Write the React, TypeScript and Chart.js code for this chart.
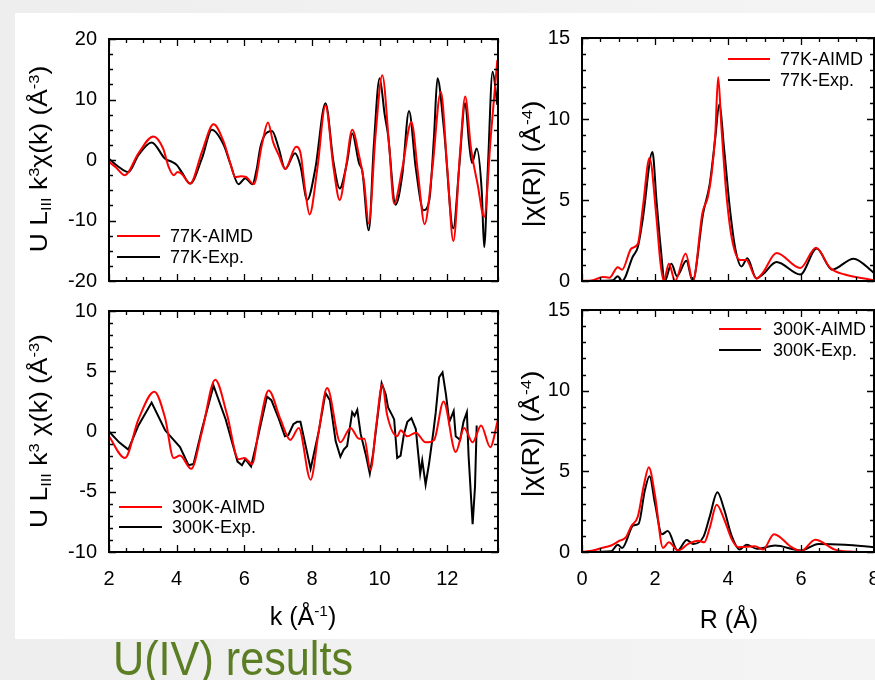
import React, { useEffect, useRef } from "react";
import { Chart, registerables } from "chart.js";
Chart.register(...registerables);

const W = 875;
const H = 680;
const FONT = "'Liberation Sans', Arial, Helvetica, sans-serif";
const RED = "#ff0000";
const BLACK = "#000000";

// ---------- 77K k-space ----------
const k77Aimd = [2.0, 2.2, 2.47, 2.87, 3.31, 3.6, 3.76, 3.91, 4.03, 4.15, 4.4, 4.75, 5.09, 5.39, 5.6, 5.73, 5.9, 6.05, 6.28, 6.52, 6.7, 6.85, 7.02, 7.21, 7.53, 7.66, 7.8, 7.93, 8.16, 8.4, 8.64, 8.82, 9.0, 9.19, 9.39, 9.54, 9.68, 9.88, 10.08, 10.28, 10.43, 10.67, 10.94, 11.14, 11.33, 11.56, 11.81, 12.0, 12.18, 12.38, 12.53, 12.7, 12.9, 13.09, 13.29, 13.48];
const chi77Aimd = [-0.3, -1.2, -2.5, 1.1, 3.9, 1.9, -1.1, -2.5, -2.0, -2.3, -3.9, 1.4, 5.9, 3.0, -0.8, -2.8, -2.7, -2.8, -4.0, 2.5, 6.2, 3.0, 0.8, -1.5, 2.2, 1.2, -5.0, -9.0, -1.4, 9.0, -1.4, -6.6, -1.4, 5.0, 0.8, -3.6, -10.5, 4.1, 14.0, 2.5, -7.2, -1.4, 6.3, -2.5, -10.6, -1.4, 11.3, -1.3, -13.4, 1.4, 10.5, 2.0, -4.1, -9.4, 4.1, 16.5];
const k77Exp = [2.0, 2.3, 2.57, 2.87, 3.26, 3.66, 3.86, 4.0, 4.15, 4.4, 4.75, 5.04, 5.39, 5.58, 5.83, 6.03, 6.24, 6.37, 6.47, 6.6, 6.82, 7.02, 7.21, 7.5, 7.66, 7.86, 8.1, 8.4, 8.64, 8.82, 9.04, 9.19, 9.39, 9.49, 9.68, 9.83, 10.0, 10.15, 10.25, 10.47, 10.67, 10.87, 11.07, 11.3, 11.47, 11.61, 11.71, 11.9, 12.18, 12.35, 12.53, 12.65, 12.73, 12.87, 13.02, 13.09, 13.2, 13.34, 13.48];
const chi77Exp = [0.2, -1.2, -2.0, 0.8, 2.9, 0.2, -0.3, -0.8, -2.0, -3.9, 0.3, 5.0, 2.5, -0.5, -4.0, -3.0, -4.0, -1.4, 2.0, 4.1, 4.8, 1.9, -1.5, 1.1, -1.0, -6.6, -1.4, 9.4, -0.5, -4.7, -0.3, 4.4, -0.5, -1.9, -11.6, 2.5, 13.5, 7.5, 4.1, -7.4, -2.5, 8.1, -1.4, -8.3, -6.6, 4.1, 13.5, 5.2, -11.3, -1.4, 9.4, 2.5, -0.5, 1.9, -5.2, -14.4, -1.4, 14.6, 9.1];

// ---------- 300K k-space ----------
const k300Aimd = [2.0, 2.47, 2.87, 3.34, 3.66, 3.91, 4.1, 4.43, 4.75, 5.14, 5.49, 5.83, 6.0, 6.23, 6.45, 6.72, 7.07, 7.36, 7.61, 7.96, 8.2, 8.45, 8.84, 9.14, 9.39, 9.55, 9.73, 9.9, 10.08, 10.22, 10.52, 10.62, 10.82, 11.07, 11.36, 11.61, 11.89, 12.25, 12.5, 12.75, 13.0, 13.27, 13.5];
const chi300Aimd = [-0.4, -2.2, 1.0, 3.3, 1.1, -2.2, -2.0, -3.1, 0.0, 4.3, 1.4, -2.3, -2.2, -2.7, 0.5, 3.4, 1.0, -0.7, 0.3, -4.0, 0.0, 3.6, -0.9, 0.3, -0.6, -0.6, -3.2, 0.5, 3.9, 1.4, -0.4, 0.1, -0.4, -0.1, -0.9, -0.7, 2.5, -1.7, 0.3, -0.9, 0.5, -1.3, 1.0];
const k300Exp = [2.0, 2.3, 2.57, 2.87, 3.26, 3.66, 3.91, 4.1, 4.35, 4.5, 4.75, 5.09, 5.45, 5.8, 5.93, 6.03, 6.2, 6.4, 6.67, 6.8, 7.0, 7.2, 7.3, 7.45, 7.56, 7.66, 7.96, 8.2, 8.4, 8.53, 8.7, 8.84, 8.94, 9.04, 9.19, 9.26, 9.34, 9.44, 9.59, 9.71, 9.81, 10.06, 10.18, 10.25, 10.38, 10.43, 10.52, 10.62, 10.72, 10.82, 10.94, 11.07, 11.2, 11.26, 11.36, 11.46, 11.59, 11.66, 11.76, 11.86, 11.96, 12.06, 12.19, 12.25, 12.38, 12.48, 12.58, 12.63, 12.75, 12.82, 12.87];
const chi300Exp = [0.0, -0.9, -1.5, 0.5, 2.4, 0.1, -0.7, -1.3, -2.8, -2.7, 0.2, 3.8, 1.0, -2.5, -2.8, -2.3, -2.9, -0.5, 2.9, 2.6, 1.2, -0.4, -0.3, 0.6, 0.8, 0.8, -3.1, 0.0, 3.2, 2.6, -0.8, -2.1, -1.5, -1.2, 1.6, 1.3, 1.8, -0.2, -1.9, -3.5, -1.8, 4.0, 3.1, 2.0, 1.3, 1.0, -2.2, -2.0, -0.2, 0.8, 1.1, 0.2, -3.5, -2.4, -4.4, -2.7, 0.0, 1.6, 4.5, 4.9, 3.1, 0.8, 1.7, -0.4, -0.7, 0.8, 1.6, -2.0, -7.7, -4.6, 0.5];

// ---------- 77K R-space ----------
const r77Aimd = [0, 0.3, 0.57, 0.75, 0.98, 1.1, 1.35, 1.53, 1.67, 1.85, 2.04, 2.15, 2.24, 2.38, 2.55, 2.84, 3.04, 3.3, 3.45, 3.55, 3.65, 3.73, 3.82, 3.95, 4.1, 4.33, 4.5, 4.78, 4.95, 5.33, 5.98, 6.41, 6.8, 7.2, 8.0];
const mag77Aimd = [0, 0.05, 0.25, 0.2, 0.85, 0.7, 2.0, 2.3, 4.6, 7.6, 3.9, 1.1, 0, 1.07, 0, 1.7, 0, 4.2, 5.2, 6.6, 9.0, 12.6, 9.5, 5.5, 2.7, 1.3, 1.3, 0.15, 0.5, 1.73, 0.8, 2.06, 0.8, 0.4, 0.05];
const r77Exp = [0, 0.5, 0.85, 0.98, 1.1, 1.39, 1.53, 1.67, 1.93, 2.04, 2.15, 2.27, 2.45, 2.6, 2.86, 3.03, 3.32, 3.5, 3.65, 3.76, 3.9, 4.05, 4.2, 4.37, 4.53, 4.78, 4.95, 5.33, 5.98, 6.43, 6.85, 7.44, 8.0];
const mag77Exp = [0, 0.02, 0.05, 0.3, 0, 1.5, 2.1, 3.9, 7.96, 5.0, 2.2, 0, 1.07, 0.3, 1.25, 0, 4.2, 6.0, 8.8, 10.9, 8.0, 4.5, 2.0, 0.9, 1.4, 0.15, 0.4, 1.17, 0.4, 2.0, 0.7, 1.38, 0.5];

// ---------- 300K R-space ----------
const r300Aimd = [0, 0.3, 0.62, 0.8, 1.03, 1.2, 1.35, 1.53, 1.7, 1.83, 2.0, 2.22, 2.38, 2.63, 2.91, 3.18, 3.35, 3.5, 3.69, 3.9, 4.1, 4.28, 4.74, 4.96, 5.26, 5.74, 6.0, 6.39, 6.93, 7.4, 8.0];
const mag300Aimd = [0, 0.1, 0.3, 0.4, 0.7, 0.9, 1.6, 2.2, 4.2, 5.26, 3.5, 0.25, 0.6, 0.1, 0.5, 0.7, 0.6, 1.5, 2.93, 2.0, 0.8, 0.3, 0.35, 0.15, 1.1, 0.3, 0.05, 0.76, 0.15, 0.02, 0];
const r300Exp = [0, 0.5, 0.8, 0.98, 1.1, 1.41, 1.55, 1.72, 1.85, 2.0, 2.19, 2.35, 2.62, 2.87, 3.05, 3.33, 3.5, 3.71, 3.9, 4.1, 4.32, 4.51, 4.79, 5.29, 6.0, 6.48, 7.2, 8.0];
const mag300Exp = [0, 0.02, 0.05, 0.45, 0.25, 1.65, 1.75, 3.8, 4.7, 3.0, 1.1, 1.3, 0.1, 0.75, 0.5, 0.95, 2.2, 3.7, 2.6, 1.0, 0.15, 0.45, 0.2, 0.4, 0.1, 0.5, 0.45, 0.3];

// ---------- axis ticks ----------
const kAxis = { min: 2, max: 13.5, step: 2, minor: 0.5 };
const rAxis = { min: 0, max: 8, step: 2, minor: 0.5 };
const y77Axis = { min: -20, max: 20, step: 10, minor: 2.5 };
const y300Axis = { min: -10, max: 10, step: 5, minor: 1 };
const ymagAxis = { min: 0, max: 15, step: 5, minor: 1 };

const labels77 = ["77K-AIMD", "77K-Exp."];
const labels300 = ["300K-AIMD", "300K-Exp."];

type Axis = { min: number; max: number; step: number; minor: number };
type Series = { xs: number[]; ys: number[]; color: string; mono: boolean };
type Panel = {
  area: { l: number; t: number; r: number; b: number };
  x: Axis;
  y: Axis;
  showX: boolean;
  series: Series[];
};

const panels: Panel[] = [
  {
    area: { l: 109, t: 39, r: 498, b: 281 },
    x: kAxis,
    y: y77Axis,
    showX: false,
    series: [
      { xs: k77Aimd, ys: chi77Aimd, color: RED, mono: true },
      { xs: k77Exp, ys: chi77Exp, color: BLACK, mono: true },
    ],
  },
  {
    area: { l: 109, t: 311, r: 498, b: 552 },
    x: kAxis,
    y: y300Axis,
    showX: true,
    series: [
      { xs: k300Aimd, ys: chi300Aimd, color: RED, mono: true },
      { xs: k300Exp, ys: chi300Exp, color: BLACK, mono: false },
    ],
  },
  {
    area: { l: 582, t: 38, r: 874, b: 281 },
    x: rAxis,
    y: ymagAxis,
    showX: false,
    series: [
      { xs: r77Aimd, ys: mag77Aimd, color: RED, mono: true },
      { xs: r77Exp, ys: mag77Exp, color: BLACK, mono: true },
    ],
  },
  {
    area: { l: 582, t: 310, r: 874, b: 552 },
    x: rAxis,
    y: ymagAxis,
    showX: true,
    series: [
      { xs: r300Aimd, ys: mag300Aimd, color: RED, mono: true },
      { xs: r300Exp, ys: mag300Exp, color: BLACK, mono: true },
    ],
  },
];

function isMajor(v: number, step: number) {
  const q = v / step;
  return Math.abs(q - Math.round(q)) < 1e-6;
}

function buildChart(canvas: HTMLCanvasElement, p: Panel, idx: number) {
  const xH = p.showX ? 44 : 0;
  const frame = {
    id: "frame" + idx,
    afterDatasetsDraw(chart: any) {
      const { ctx, chartArea: a, scales } = chart;
      const xs = scales.x;
      const ys = scales.y;
      ctx.save();
      ctx.strokeStyle = "#000";
      ctx.lineWidth = 1.3;
      ctx.beginPath();
      const nx = Math.round((p.x.max - p.x.min) / p.x.minor);
      for (let i = 0; i <= nx; i++) {
        const v = p.x.min + i * p.x.minor;
        const px = Math.round(xs.getPixelForValue(v)) + 0.5;
        const len = isMajor(v, p.x.step) ? 7 : 4;
        ctx.moveTo(px, a.bottom);
        ctx.lineTo(px, a.bottom - len);
        ctx.moveTo(px, a.top);
        ctx.lineTo(px, a.top + len);
      }
      const ny = Math.round((p.y.max - p.y.min) / p.y.minor);
      for (let i = 0; i <= ny; i++) {
        const v = p.y.min + i * p.y.minor;
        const py = Math.round(ys.getPixelForValue(v)) + 0.5;
        const len = isMajor(v, p.y.step) ? 7 : 4;
        ctx.moveTo(a.left, py);
        ctx.lineTo(a.left + len, py);
        ctx.moveTo(a.right, py);
        ctx.lineTo(a.right - len, py);
      }
      ctx.stroke();
      ctx.lineWidth = 2;
      ctx.strokeRect(a.left, a.top, a.right - a.left, a.bottom - a.top);
      ctx.restore();
    },
  };

  return new Chart(canvas, {
    type: "line",
    data: {
      datasets: p.series.map((s) => {
        const n = Math.min(s.xs.length, s.ys.length);
        const pts = [] as { x: number; y: number }[];
        for (let i = 0; i < n; i++) pts.push({ x: s.xs[i], y: s.ys[i] });
        return {
          data: pts,
          borderColor: s.color,
          backgroundColor: s.color,
          borderWidth: 2,
          pointRadius: 0,
          fill: false,
          cubicInterpolationMode: s.mono ? "monotone" : "default",
          tension: s.mono ? 0.4 : 0,
        } as any;
      }),
    },
    options: {
      responsive: false,
      maintainAspectRatio: false,
      animation: false,
      events: [],
      layout: {
        padding: {
          left: 0,
          top: p.area.t,
          right: W - p.area.r,
          bottom: H - p.area.b - xH,
        },
      },
      plugins: {
        legend: { display: false },
        tooltip: { enabled: false },
        title: { display: false },
      },
      scales: {
        x: {
          type: "linear",
          min: p.x.min,
          max: p.x.max,
          grid: { display: false, drawTicks: false },
          border: { display: false },
          ticks: {
            display: p.showX,
            stepSize: p.x.step,
            includeBounds: false,
            padding: 15,
            maxRotation: 0,
            autoSkip: false,
            color: "#000",
            font: { family: FONT, size: 20 },
          },
          afterFit: (s: any) => {
            s.height = xH;
            s.paddingLeft = 0;
            s.paddingRight = 0;
          },
        },
        y: {
          type: "linear",
          min: p.y.min,
          max: p.y.max,
          grid: { display: false, drawTicks: false },
          border: { display: false },
          ticks: {
            stepSize: p.y.step,
            padding: 12,
            color: "#000",
            font: { family: FONT, size: 20 },
          },
          afterFit: (s: any) => {
            s.width = p.area.l;
            s.paddingTop = 0;
            s.paddingBottom = 0;
          },
        },
      } as any,
    },
    plugins: [frame],
  } as any);
}

function ChartCanvas({ p, idx }: { p: Panel; idx: number }) {
  const ref = useRef<HTMLCanvasElement | null>(null);
  useEffect(() => {
    if (!ref.current) return;
    const c = buildChart(ref.current, p, idx);
    return () => c.destroy();
  }, []);
  return (
    <canvas
      ref={ref}
      width={W}
      height={H}
      style={{ position: "absolute", left: 0, top: 0, width: W, height: H }}
    />
  );
}

const supStyle: React.CSSProperties = { fontSize: "0.62em", verticalAlign: "0.55em", lineHeight: 0 };
const subStyle: React.CSSProperties = { fontSize: "0.62em", verticalAlign: "-0.3em", lineHeight: 0 };

function VTitle({ cx, cy, children, stretch }: { cx: number; cy: number; children: any; stretch: number }) {
  return (
    <div
      style={{
        position: "absolute",
        left: cx,
        top: cy,
        transform: `translate(-50%,-50%) rotate(-90deg) scaleX(${stretch})`,
        whiteSpace: "nowrap",
        font: `23px ${FONT}`,
        lineHeight: "26px",
        color: "#000",
      }}
    >
      {children}
    </div>
  );
}

function HTitle({ cx, cy, children }: { cx: number; cy: number; children: any }) {
  return (
    <div
      style={{
        position: "absolute",
        left: cx,
        top: cy,
        transform: "translate(-50%,-50%)",
        whiteSpace: "nowrap",
        font: `25px ${FONT}`,
        lineHeight: "28px",
        color: "#000",
      }}
    >
      {children}
    </div>
  );
}

function Legend({ x1, x2, tx, y1, y2, labels }: { x1: number; x2: number; tx: number; y1: number; y2: number; labels: string[] }) {
  const items = [
    { y: y1, color: RED, label: labels[0] },
    { y: y2, color: BLACK, label: labels[1] },
  ];
  return (
    <>
      {items.map((it, i) => (
        <React.Fragment key={i}>
          <div
            style={{
              position: "absolute",
              left: x1,
              top: it.y - 1,
              width: x2 - x1,
              height: 2,
              background: it.color,
            }}
          />
          <div
            style={{
              position: "absolute",
              left: tx,
              top: it.y - 11,
              font: `18px ${FONT}`,
              lineHeight: "22px",
              color: "#000",
              whiteSpace: "nowrap",
            }}
          >
            {it.label}
          </div>
        </React.Fragment>
      ))}
    </>
  );
}

export default function App() {
  return (
    <div
      style={{
        position: "fixed",
        left: 0,
        top: 0,
        width: W,
        height: H,
        overflow: "hidden",
        background: "linear-gradient(90deg, #eeeeee, #f4f4f4)",
      }}
    >
      <div style={{ position: "absolute", left: 15, top: 13, width: W - 15, height: 626, background: "#ffffff" }} />
      {panels.map((p, i) => (
        <ChartCanvas key={i} p={p} idx={i} />
      ))}
      <VTitle cx={39} cy={159} stretch={1.15}>
        U L<span style={subStyle}>III</span> k<span style={supStyle}>3</span>χ(k) (Å<span style={supStyle}>-3</span>)
      </VTitle>
      <VTitle cx={39} cy={431} stretch={1.15}>
        U L<span style={subStyle}>III</span> k<span style={supStyle}>3</span> χ(k) (Å<span style={supStyle}>-3</span>)
      </VTitle>
      <VTitle cx={532} cy={164} stretch={1.2}>
        |χ(R)| (Å<span style={supStyle}>-4</span>)
      </VTitle>
      <VTitle cx={531} cy={434} stretch={1.2}>
        |χ(R)| (Å<span style={supStyle}>-4</span>)
      </VTitle>
      <HTitle cx={303} cy={616}>
        k (Å<span style={supStyle}>-1</span>)
      </HTitle>
      <HTitle cx={729} cy={619}>
        R (Å)
      </HTitle>
      <Legend x1={117} x2={160} tx={170} y1={236} y2={257} labels={labels77} />
      <Legend x1={119} x2={162} tx={172} y1={507} y2={527} labels={labels300} />
      <Legend x1={728} x2={770} tx={780} y1={59} y2={80} labels={labels77} />
      <Legend x1={719} x2={761} tx={773} y1={329} y2={350} labels={labels300} />
      <div
        style={{
          position: "absolute",
          left: 113,
          top: 633,
          font: `48px ${FONT}`,
          lineHeight: "52px",
          color: "#5b7d23",
          whiteSpace: "nowrap",
          transform: "scaleX(0.9)",
          transformOrigin: "left center",
        }}
      >
        U(IV) results
      </div>
    </div>
  );
}
